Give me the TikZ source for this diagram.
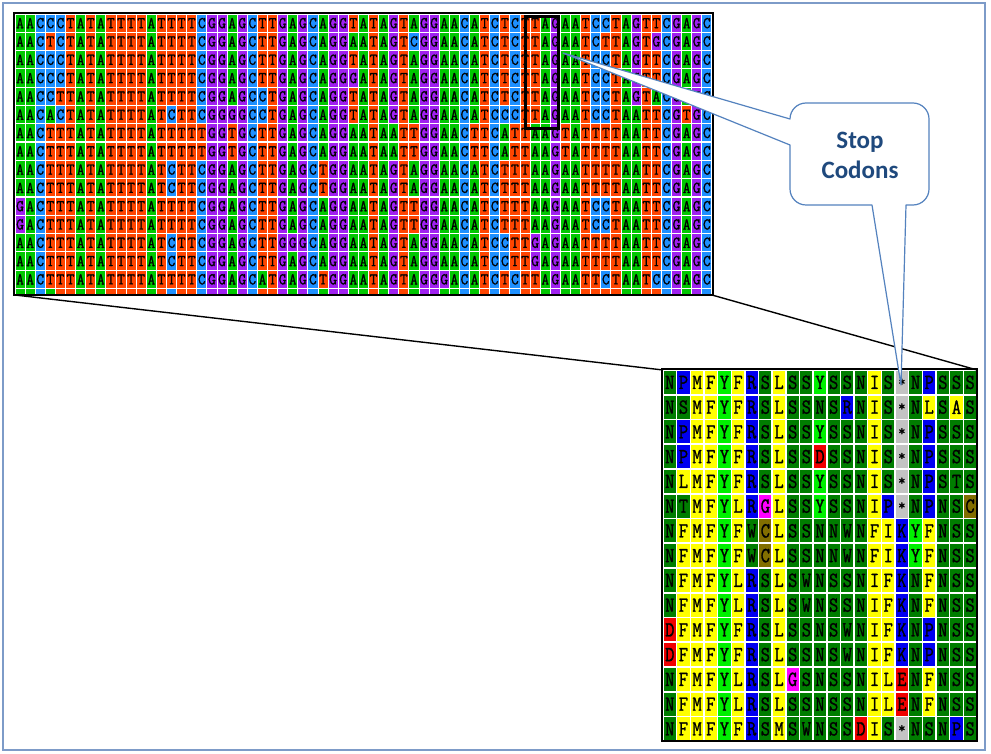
\documentclass[tikz,border=0pt]{standalone}
\usepackage{fontspec}
\newfontfamily\seqfont{Latin Modern Mono}[FakeBold=1.2]
\newfontfamily\calloutfont{Carlito}
\usetikzlibrary{positioning}
% nucleotide colours
\definecolor{ntA}{RGB}{0,200,0}
\definecolor{ntC}{RGB}{30,144,255}
\definecolor{ntG}{RGB}{160,32,240}
\definecolor{ntT}{RGB}{255,69,0}
% amino acid colours
\definecolor{aaPolar}{RGB}{0,125,0}
\definecolor{aaHydro}{RGB}{255,255,0}
\definecolor{aaArom}{RGB}{0,240,0}
\definecolor{aaBasic}{RGB}{0,0,240}
\definecolor{aaAcid}{RGB}{240,0,0}
\definecolor{aaGly}{RGB}{255,0,255}
\definecolor{aaCys}{RGB}{130,110,0}
\definecolor{aaStop}{RGB}{195,195,195}
\definecolor{calloutLine}{RGB}{84,130,190}
\definecolor{calloutText}{RGB}{31,73,125}
\definecolor{marco}{RGB}{125,155,200}

% one row of cells from a string of letters
\newcount\cellcol
\def\cellglyph#1{\ifx*#1\raisebox{-0.6ex}{\scalebox{0.8}{*}}\else\scalebox{1}[\cellstretch]{#1}\fi}
\newcommand\cellput[1]{%
  \node[\cellkind-cell, \cellkind-#1] (\cellkind-\cellrow-\the\cellcol)
    at ({\gridx+(\the\cellcol+0.5)*\griddx},{\gridy+(\cellrow+0.5)*\griddy}) {\cellglyph{#1}};}
\def\cellparse#1{%
  \ifx#1\relax\else
    \cellput{#1}%
    \global\advance\cellcol by 1
    \expandafter\cellparse
  \fi}

\begin{document}
\begin{tikzpicture}[x=1pt, y=-1pt,
    nt-cell/.style={inner sep=0, minimum width=9.1pt, minimum height=17.1pt,
        font=\seqfont\fontsize{15}{15}\selectfont},
    aa-cell/.style={inner sep=0, minimum width=12.2pt, minimum height=23.1pt,
        font=\seqfont\fontsize{18}{18}\selectfont},
    nt-A/.style={fill=ntA}, nt-C/.style={fill=ntC},
    nt-G/.style={fill=ntG}, nt-T/.style={fill=ntT},
    aa-N/.style={fill=aaPolar}, aa-S/.style={fill=aaPolar},
    aa-T/.style={fill=aaPolar}, aa-W/.style={fill=aaPolar},
    aa-M/.style={fill=aaHydro}, aa-F/.style={fill=aaHydro},
    aa-L/.style={fill=aaHydro}, aa-I/.style={fill=aaHydro},
    aa-A/.style={fill=aaHydro}, aa-Y/.style={fill=aaArom},
    aa-P/.style={fill=aaBasic}, aa-R/.style={fill=aaBasic},
    aa-K/.style={fill=aaBasic}, aa-D/.style={fill=aaAcid},
    aa-E/.style={fill=aaAcid}, aa-G/.style={fill=aaGly},
    aa-C/.style={fill=aaCys}, aa-*/.style={fill=aaStop},
    gridframe/.style={draw=black, line width=2pt},
    zoomline/.style={draw=black, line width=1.4pt},
    callout/.style={draw=calloutLine, fill=white, line width=1.2pt, line join=round},
    callouttext/.style={text=calloutText, align=center,
        font=\calloutfont\bfseries\fontsize{25}{30}\selectfont}]
\useasboundingbox (0,0) rectangle (991,754);
\fill[white] (0,0) rectangle (991,754);
\draw[marco, line width=1.2pt] (3,3) rectangle (985,750);

% DNA alignment
\def\cellkind{nt}\def\cellstretch{1.1}
\def\gridx{15}\def\gridy{14}\def\griddx{10.1}\def\griddy{18.3}
\foreach \seq [count=\rowi from 0] in {
    AACCCTATATTTTATTTTCGGAGCTTGAGCAGGTATAGTAGGAACATCTCTTAGAATCCTAGTTCGAGC,
    AACTCTATATTTTATTTTCGGAGCTTGAGCAGGAATAGTCGGAACATCTCTTAGAATCTTAGTGCGAGC,
    AACCCTATATTTTATTTTCGGAGCTTGAGCAGGTATAGTAGGAACATCTCTTAGAATCCTAGTTCGAGC,
    AACCCTATATTTTATTTTCGGAGCTTGAGCAGGGATAGTAGGAACATCTCTTAGAATCCTAGTTCGAGC,
    AACCTTATATTTTATTTTCGGAGCCTGAGCAGGTATAGTAGGAACATCTCTTAGAATCCTAGTACGAGC,
    AACACTATATTTTATCTTCGGGGCCTGAGCAGGTATAGTAGGAACATCCCTTAGAATCCTAATTCGTGC,
    AACTTTATATTTTATTTTTGGTGCTTGAGCAGGAATAATTGGAACTTCATTAAGTATTTTAATTCGAGC,
    AACTTTATATTTTATTTTTGGTGCTTGAGCAGGAATAATTGGAACTTCATTAAGTATTTTAATTCGAGC,
    AACTTTATATTTTATCTTCGGAGCTTGAGCTGGAATAGTAGGAACATCTTTAAGAATTTTAATTCGAGC,
    AACTTTATATTTTATCTTCGGAGCTTGAGCTGGAATAGTAGGAACATCTTTAAGAATTTTAATTCGAGC,
    GACTTTATATTTTATTTTCGGAGCTTGAGCAGGAATAGTTGGAACATCTTTAAGAATCCTAATTCGAGC,
    GACTTTATATTTTATTTTCGGAGCTTGAGCAGGAATAGTTGGAACATCTTTAAGAATCCTAATTCGAGC,
    AACTTTATATTTTATCTTCGGAGCTTGGGCAGGAATAGTAGGAACATCCTTGAGAATTTTAATTCGAGC,
    AACTTTATATTTTATCTTCGGAGCTTGAGCAGGAATAGTAGGAACATCCTTGAGAATTTTAATTCGAGC,
    AACTTTATATTTTATTTTCGGAGCATGAGCTGGAATAGTAGGGACATCTCTTAGAATTCTAATCCGAGC}{%
  \edef\cellrow{\rowi}\global\cellcol=0
  \expandafter\cellparse\seq\relax}
% cut-off last row
\begin{scope}
  \clip (15,14) rectangle (712,294);
  \def\cellglyph#1{}\def\cellrow{15}\global\cellcol=0
  \cellparse AACATTATATTTTATCTTCGGAGCTTGAGCAGGAATAGTAGGAACATCTCTTAGAATTTTAATTCGAGC\relax
\end{scope}
\coordinate (dna-sw) at (15,295);
\coordinate (dna-se) at (712,295);
\draw[gridframe] (14,13) rectangle (713,295);
\draw[line width=3.2pt] (525.5,16.5) rectangle (558.5,128.5);

% protein alignment
\def\cellkind{aa}\def\cellstretch{1.2}
\def\gridx{663}\def\gridy{370}\def\griddx{13.65}\def\griddy{24.75}
\foreach \seq [count=\rowi from 0] in {
    NPMFYFRSLSSYSSNIS*NPSSS, NSMFYFRSLSSNSRNIS*NLSAS,
    NPMFYFRSLSSYSSNIS*NPSSS, NPMFYFRSLSSDSSNIS*NPSSS,
    NLMFYFRSLSSYSSNIS*NPSTS, NTMFYLRGLSSYSSNIP*NPNSC,
    NFMFYFWCLSSNNWNFIKYFNSS, NFMFYFWCLSSNNWNFIKYFNSS,
    NFMFYLRSLSWNSSNIFKNFNSS, NFMFYLRSLSWNSSNIFKNFNSS,
    DFMFYFRSLSSNSWNIFKNPNSS, DFMFYFRSLSSNSWNIFKNPNSS,
    NFMFYLRSLGSNSSNILENFNSS, NFMFYLRSLSSNSSNILENFNSS,
    NFMFYFRSMSWNSSDIS*NSNPS}{%
  \edef\cellrow{\rowi}\global\cellcol=0
  \expandafter\cellparse\seq\relax}
\coordinate (aa-nw) at (663,370);
\coordinate (aa-ne) at (977,370);
\draw[gridframe] (662,369) rectangle (977,741);

% zoom lines
\draw[zoomline] (dna-sw) -- (aa-nw);
\draw[zoomline] (dna-se) -- (aa-ne);

% callout with two pointers
\coordinate (stop-dna) at (563,53);
\coordinate (stop-aa) at (901,385);
\draw[callout] (790,145) -- (stop-dna) -- (790,119)
    .. controls (790,110.2) and (797.2,103) .. (806,103) -- (913,103)
    .. controls (921.8,103) and (929,110.2) .. (929,119) -- (929,189)
    .. controls (929,197.8) and (921.8,205) .. (913,205) -- (906,205)
    -- (stop-aa) -- (872,205) -- (806,205)
    .. controls (797.2,205) and (790,197.8) .. (790,189) -- cycle;
\node[callouttext] (stop-label) at (860,155) {Stop\\Codons};
\end{tikzpicture}
\end{document}
